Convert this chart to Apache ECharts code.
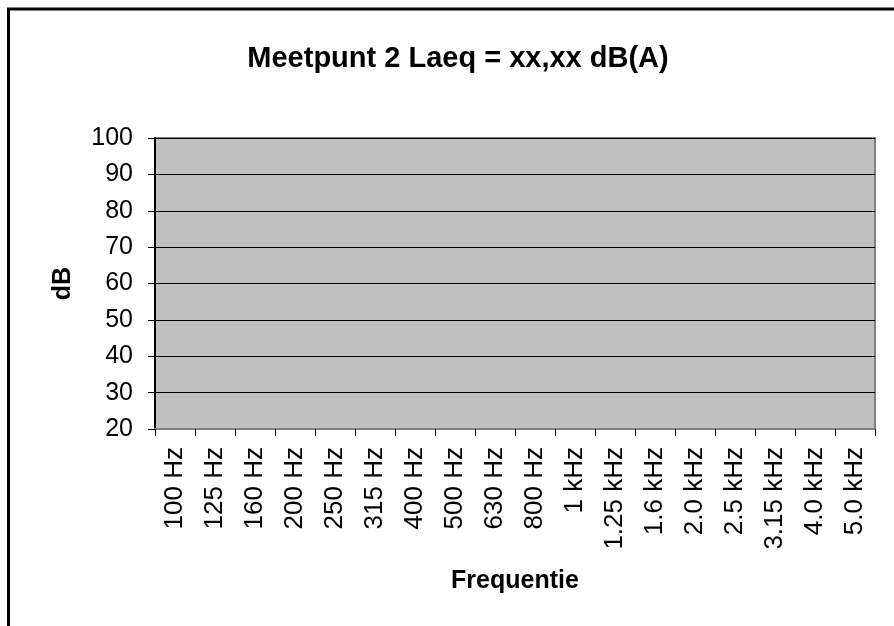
<!DOCTYPE html>
<html>
<head>
<meta charset="utf-8">
<script src="https://cdn.jsdelivr.net/npm/echarts@6/dist/echarts.min.js"></script>
<style>html,body{margin:0;padding:0;background:#fff}#c{width:894px;height:626px}</style>
</head>
<body>
<div id="c"></div>
<script>
var categories = ['100 Hz','125 Hz','160 Hz','200 Hz','250 Hz','315 Hz','400 Hz','500 Hz','630 Hz','800 Hz','1 kHz','1.25 kHz','1.6 kHz','2.0 kHz','2.5 kHz','3.15 kHz','4.0 kHz','5.0 kHz'];
var values = [null,null,null,null,null,null,null,null,null,null,null,null,null,null,null,null,null,null];
var yMin = 20, yMax = 100, yStep = 10;
var titleText = 'Meetpunt 2 Laeq = xx,xx dB(A)';
var xName = 'Frequentie', yName = 'dB';

var chart = echarts.init(document.getElementById('c'), null, {renderer:'canvas'});
var font = 'Liberation Sans, Arial, sans-serif';
chart.setOption({
  animation:false,
  backgroundColor:'#fff',
  textStyle:{fontFamily:font},
  title:{text:titleText,left:453,top:39,textAlign:'center',
    textStyle:{fontFamily:font,fontSize:29,fontWeight:'bold',color:'#000'}},
  graphic:[{type:'rect',shape:{x:8.5,y:9,width:1000,height:1000},
    style:{fill:'none',stroke:'#000',lineWidth:3},silent:true}],
  grid:{left:155,right:19,top:138,bottom:197,show:true,backgroundColor:'#C0C0C0',borderColor:'#808080',borderWidth:2},
  xAxis:{type:'category',data:categories,boundaryGap:true,
    name:xName,nameLocation:'middle',nameGap:140,
    nameTextStyle:{fontFamily:font,fontSize:25,fontWeight:'bold',color:'#000'},
    axisLine:{lineStyle:{color:'#808080',width:2}},
    axisTick:{show:true,length:7,alignWithLabel:false,lineStyle:{color:'#000',width:1}},
    axisLabel:{rotate:90,interval:0,margin:18,fontSize:26,color:'#000',fontFamily:font},
    splitLine:{show:false}},
  yAxis:{type:'value',min:yMin,max:yMax,interval:yStep,
    name:yName,nameLocation:'middle',nameGap:79,nameRotate:90,
    nameTextStyle:{fontFamily:font,fontSize:25,fontWeight:'bold',color:'#000'},
    axisLine:{show:true,lineStyle:{color:'#000',width:2}},
    axisTick:{show:true,length:7,lineStyle:{color:'#000',width:1}},
    axisLabel:{margin:22,fontSize:25,color:'#000',fontFamily:font},
    splitLine:{show:true,lineStyle:{color:'#000',width:1}}},
  series:[{type:'bar',data:values}]
});
</script>
</body>
</html>
